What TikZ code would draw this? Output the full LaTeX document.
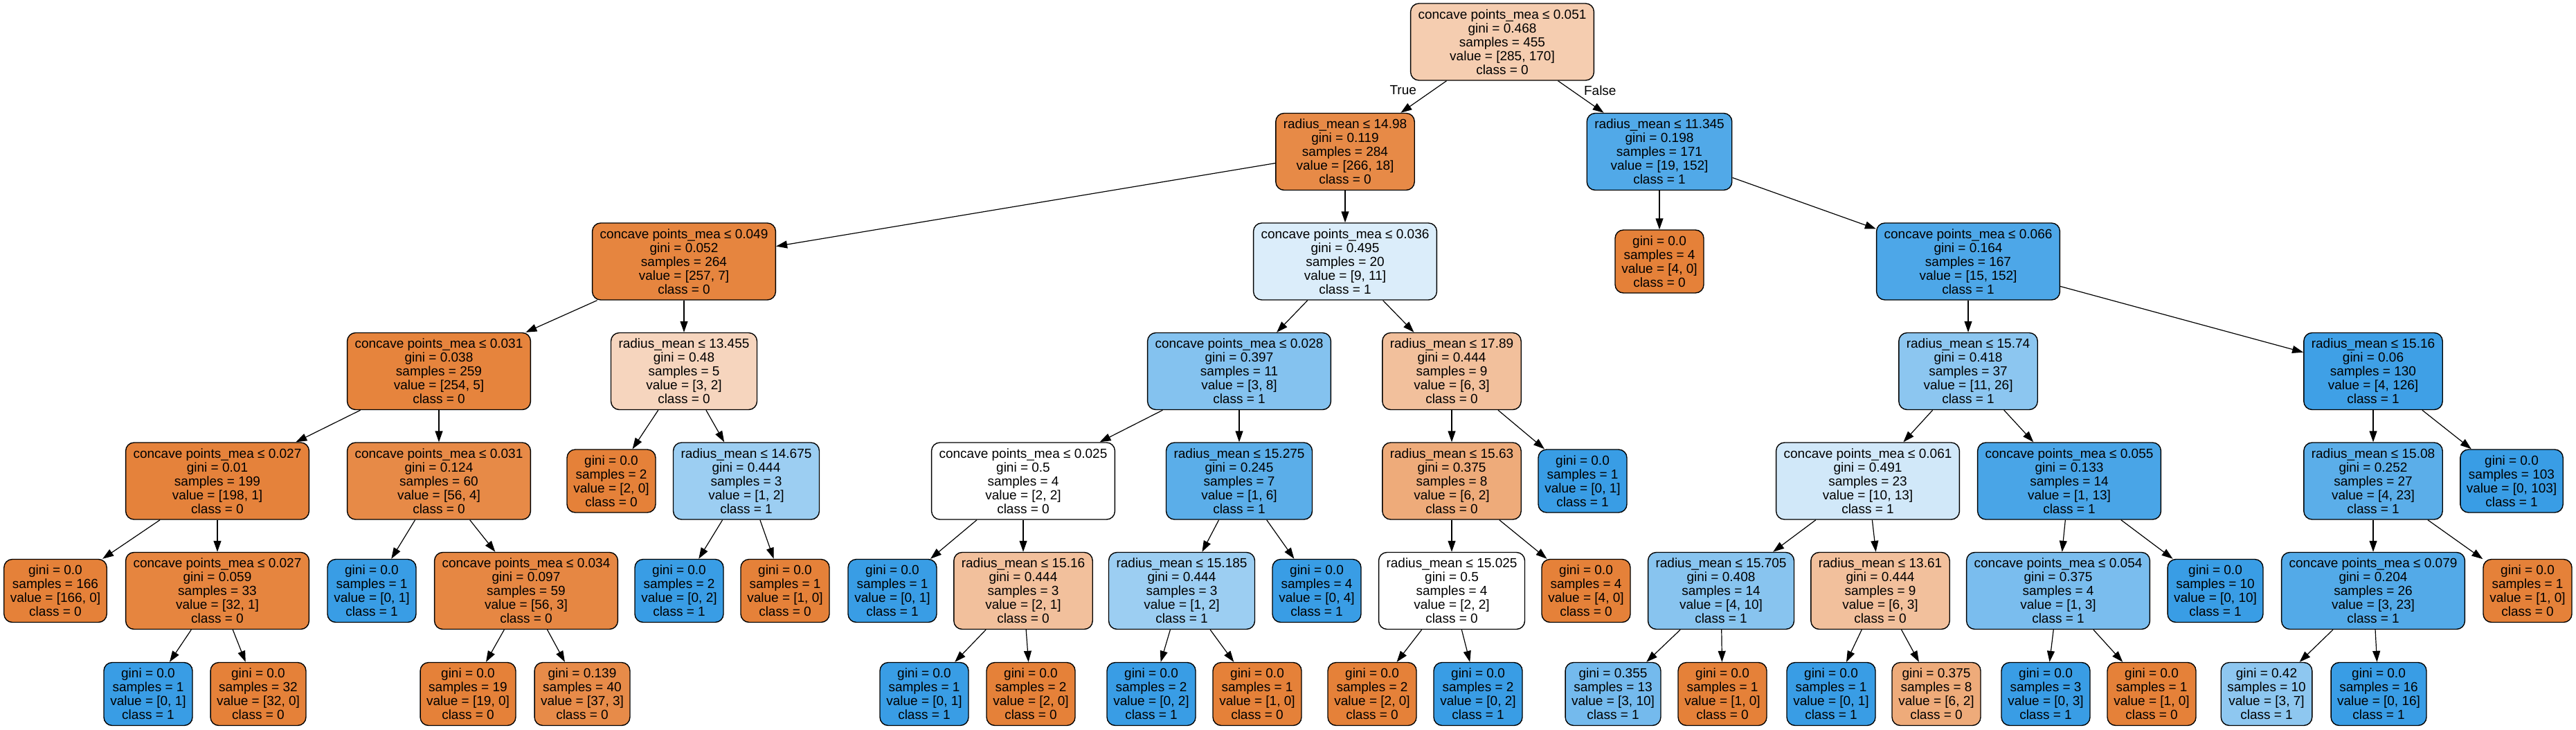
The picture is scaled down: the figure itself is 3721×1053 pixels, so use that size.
\documentclass[tikz,border=0pt]{standalone}
\usepackage{fontspec}
\setmainfont{Liberation Sans}
\usepackage{tikz}
\usetikzlibrary{arrows.meta}
\definecolor{cA}{HTML}{E58139}
\definecolor{cB}{HTML}{399DE5}
\tikzstyle{split} = [rectangle, rounded corners=12pt, draw=black, line width=1.4pt, align=center, inner xsep=11pt, inner ysep=2pt, minimum height=111pt, font=\fontsize{19pt}{20pt}\selectfont]
\tikzstyle{leaf} = [rectangle, rounded corners=12pt, draw=black, line width=1.4pt, align=center, inner xsep=9pt, inner ysep=2pt, minimum height=91pt, minimum width=128pt, font=\fontsize{19pt}{20pt}\selectfont]
\tikzstyle{lbl} = [font=\fontsize{19pt}{20pt}\selectfont]
\tikzstyle{arrow} = [line width=1.2pt,-{Triangle[length=16pt,width=11pt]}]

\begin{document}
\begin{tikzpicture}[node distance=158.5pt]
\useasboundingbox (0,0) rectangle (3721pt,-1053pt);

\node (root) [split, fill=cA!40] at (2170pt,-60.5pt) {concave points\_mea ≤ 0.051\\gini = 0.468\\samples = 455\\value = [285, 170]\\class = 0};

% level 1
\node (n1) [split, fill=cA!93, below of=root, xshift=-227pt] {radius\_mean ≤ 14.98\\gini = 0.119\\samples = 284\\value = [266, 18]\\class = 0};
\node (n2) [split, fill=cB!88, below of=root, xshift=227pt] {radius\_mean ≤ 11.345\\gini = 0.198\\samples = 171\\value = [19, 152]\\class = 1};

% level 2
\node (n3) [split, fill=cA!97, below of=n1, xshift=-955pt] {concave points\_mea ≤ 0.049\\gini = 0.052\\samples = 264\\value = [257, 7]\\class = 0};
\node (n4) [split, fill=cB!18, below of=n1] {concave points\_mea ≤ 0.036\\gini = 0.495\\samples = 20\\value = [9, 11]\\class = 1};
\node (n5) [leaf, fill=cA, below of=n2] {gini = 0.0\\samples = 4\\value = [4, 0]\\class = 0};
\node (n6) [split, fill=cB!90, below of=n2, xshift=446pt] {concave points\_mea ≤ 0.066\\gini = 0.164\\samples = 167\\value = [15, 152]\\class = 1};

% level 3
\node (n7) [split, fill=cA!98, below of=n3, xshift=-354pt] {concave points\_mea ≤ 0.031\\gini = 0.038\\samples = 259\\value = [254, 5]\\class = 0};
\node (n8) [split, fill=cA!33, below of=n3] {radius\_mean ≤ 13.455\\gini = 0.48\\samples = 5\\value = [3, 2]\\class = 0};
\node (n9) [split, fill=cB!62, below of=n4, xshift=-153pt] {concave points\_mea ≤ 0.028\\gini = 0.397\\samples = 11\\value = [3, 8]\\class = 1};
\node (n10) [split, fill=cA!50, below of=n4, xshift=154pt] {radius\_mean ≤ 17.89\\gini = 0.444\\samples = 9\\value = [6, 3]\\class = 0};
\node (n11) [split, fill=cB!58, below of=n6] {radius\_mean ≤ 15.74\\gini = 0.418\\samples = 37\\value = [11, 26]\\class = 1};
\node (n12) [split, fill=cB!97, below of=n6, xshift=585pt] {radius\_mean ≤ 15.16\\gini = 0.06\\samples = 130\\value = [4, 126]\\class = 1};

% level 4
\node (n13) [split, fill=cA!99, below of=n7, xshift=-320pt] {concave points\_mea ≤ 0.027\\gini = 0.01\\samples = 199\\value = [198, 1]\\class = 0};
\node (n14) [split, fill=cA!93, below of=n7] {concave points\_mea ≤ 0.031\\gini = 0.124\\samples = 60\\value = [56, 4]\\class = 0};
\node (n15) [leaf, fill=cA, below of=n8, xshift=-105pt] {gini = 0.0\\samples = 2\\value = [2, 0]\\class = 0};
\node (n16) [split, fill=cB!50, below of=n8, xshift=90pt] {radius\_mean ≤ 14.675\\gini = 0.444\\samples = 3\\value = [1, 2]\\class = 1};
\node (n17) [split, fill=white, below of=n9, xshift=-312pt] {concave points\_mea ≤ 0.025\\gini = 0.5\\samples = 4\\value = [2, 2]\\class = 0};
\node (n18) [split, fill=cB!83, below of=n9] {radius\_mean ≤ 15.275\\gini = 0.245\\samples = 7\\value = [1, 6]\\class = 1};
\node (n19) [split, fill=cA!67, below of=n10] {radius\_mean ≤ 15.63\\gini = 0.375\\samples = 8\\value = [6, 2]\\class = 0};
\node (n20) [leaf, fill=cB, below of=n10, xshift=189pt] {gini = 0.0\\samples = 1\\value = [0, 1]\\class = 1};
\node (n21) [split, fill=cB!23, below of=n11, xshift=-145pt] {concave points\_mea ≤ 0.061\\gini = 0.491\\samples = 23\\value = [10, 13]\\class = 1};
\node (n22) [split, fill=cB!92, below of=n11, xshift=146pt] {concave points\_mea ≤ 0.055\\gini = 0.133\\samples = 14\\value = [1, 13]\\class = 1};
\node (n23) [split, fill=cB!83, below of=n12] {radius\_mean ≤ 15.08\\gini = 0.252\\samples = 27\\value = [4, 23]\\class = 1};
\node (n24) [leaf, fill=cB, below of=n12, xshift=200pt] {gini = 0.0\\samples = 103\\value = [0, 103]\\class = 1};

% level 5
\node (n25) [leaf, fill=cA, below of=n13, xshift=-234pt] {gini = 0.0\\samples = 166\\value = [166, 0]\\class = 0};
\node (n26) [split, fill=cA!97, below of=n13] {concave points\_mea ≤ 0.027\\gini = 0.059\\samples = 33\\value = [32, 1]\\class = 0};
\node (n27) [leaf, fill=cB, below of=n14, xshift=-97pt] {gini = 0.0\\samples = 1\\value = [0, 1]\\class = 1};
\node (n28) [split, fill=cA!95, below of=n14, xshift=126pt] {concave points\_mea ≤ 0.034\\gini = 0.097\\samples = 59\\value = [56, 3]\\class = 0};
\node (n29) [leaf, fill=cB, below of=n16, xshift=-97pt] {gini = 0.0\\samples = 2\\value = [0, 2]\\class = 1};
\node (n30) [leaf, fill=cA, below of=n16, xshift=56pt] {gini = 0.0\\samples = 1\\value = [1, 0]\\class = 0};
\node (n31) [leaf, fill=cB, below of=n17, xshift=-189pt] {gini = 0.0\\samples = 1\\value = [0, 1]\\class = 1};
\node (n32) [split, fill=cA!50, below of=n17] {radius\_mean ≤ 15.16\\gini = 0.444\\samples = 3\\value = [2, 1]\\class = 0};
\node (n33) [split, fill=cB!50, below of=n18, xshift=-83pt] {radius\_mean ≤ 15.185\\gini = 0.444\\samples = 3\\value = [1, 2]\\class = 1};
\node (n34) [leaf, fill=cB, below of=n18, xshift=112pt] {gini = 0.0\\samples = 4\\value = [0, 4]\\class = 1};
\node (n35) [split, fill=white, below of=n19] {radius\_mean ≤ 15.025\\gini = 0.5\\samples = 4\\value = [2, 2]\\class = 0};
\node (n36) [leaf, fill=cA, below of=n19, xshift=194pt] {gini = 0.0\\samples = 4\\value = [4, 0]\\class = 0};
\node (n37) [split, fill=cB!60, below of=n21, xshift=-212pt] {radius\_mean ≤ 15.705\\gini = 0.408\\samples = 14\\value = [4, 10]\\class = 1};
\node (n38) [split, fill=cA!50, below of=n21, xshift=18pt] {radius\_mean ≤ 13.61\\gini = 0.444\\samples = 9\\value = [6, 3]\\class = 0};
\node (n39) [split, fill=cB!67, below of=n22, xshift=-16pt] {concave points\_mea ≤ 0.054\\gini = 0.375\\samples = 4\\value = [1, 3]\\class = 1};
\node (n40) [leaf, fill=cB, below of=n22, xshift=211pt] {gini = 0.0\\samples = 10\\value = [0, 10]\\class = 1};
\node (n41) [split, fill=cB!87, below of=n23] {concave points\_mea ≤ 0.079\\gini = 0.204\\samples = 26\\value = [3, 23]\\class = 1};
\node (n42) [leaf, fill=cA, below of=n23, xshift=223pt] {gini = 0.0\\samples = 1\\value = [1, 0]\\class = 0};

% level 6
\node (n43) [leaf, fill=cB, below of=n26, xshift=-100pt, yshift=9.5pt] {gini = 0.0\\samples = 1\\value = [0, 1]\\class = 1};
\node (n44) [leaf, fill=cA, below of=n26, xshift=59pt, yshift=9.5pt] {gini = 0.0\\samples = 32\\value = [32, 0]\\class = 0};
\node (n45) [leaf, fill=cA, below of=n28, xshift=-84pt, yshift=9.5pt] {gini = 0.0\\samples = 19\\value = [19, 0]\\class = 0};
\node (n46) [leaf, fill=cA!92, below of=n28, xshift=81pt, yshift=9.5pt] {gini = 0.139\\samples = 40\\value = [37, 3]\\class = 0};
\node (n47) [leaf, fill=cB, below of=n32, xshift=-143pt, yshift=9.5pt] {gini = 0.0\\samples = 1\\value = [0, 1]\\class = 1};
\node (n48) [leaf, fill=cA, below of=n32, xshift=11pt, yshift=9.5pt] {gini = 0.0\\samples = 2\\value = [2, 0]\\class = 0};
\node (n49) [leaf, fill=cB, below of=n33, xshift=-44pt, yshift=9.5pt] {gini = 0.0\\samples = 2\\value = [0, 2]\\class = 1};
\node (n50) [leaf, fill=cA, below of=n33, xshift=109pt, yshift=9.5pt] {gini = 0.0\\samples = 1\\value = [1, 0]\\class = 0};
\node (n51) [leaf, fill=cA, below of=n35, xshift=-115pt, yshift=9.5pt] {gini = 0.0\\samples = 2\\value = [2, 0]\\class = 0};
\node (n52) [leaf, fill=cB, below of=n35, xshift=38pt, yshift=9.5pt] {gini = 0.0\\samples = 2\\value = [0, 2]\\class = 1};
\node (n53) [leaf, fill=cB!70, below of=n37, xshift=-156pt, yshift=9.5pt] {gini = 0.355\\samples = 13\\value = [3, 10]\\class = 1};
\node (n54) [leaf, fill=cA, below of=n37, xshift=2pt, yshift=9.5pt] {gini = 0.0\\samples = 1\\value = [1, 0]\\class = 0};
\node (n55) [leaf, fill=cB, below of=n38, xshift=-71pt, yshift=9.5pt] {gini = 0.0\\samples = 1\\value = [0, 1]\\class = 1};
\node (n56) [leaf, fill=cA!67, below of=n38, xshift=81pt, yshift=9.5pt] {gini = 0.375\\samples = 8\\value = [6, 2]\\class = 0};
\node (n57) [leaf, fill=cB, below of=n39, xshift=-18pt, yshift=9.5pt] {gini = 0.0\\samples = 3\\value = [0, 3]\\class = 1};
\node (n58) [leaf, fill=cA, below of=n39, xshift=135pt, yshift=9.5pt] {gini = 0.0\\samples = 1\\value = [1, 0]\\class = 0};
\node (n59) [leaf, fill=cB!57, below of=n41, xshift=-154pt, yshift=9.5pt] {gini = 0.42\\samples = 10\\value = [3, 7]\\class = 1};
\node (n60) [leaf, fill=cB, below of=n41, xshift=8pt, yshift=9.5pt] {gini = 0.0\\samples = 16\\value = [0, 16]\\class = 1};

\draw [arrow] (root) -- node (truelbl) [lbl, pos=0.3, xshift=-43pt] {True} (n1);
\draw [arrow] (root) -- node (falselbl) [lbl, pos=0.3, xshift=41pt] {False} (n2);
\draw [arrow] (n1) -- (n3);
\draw [arrow] (n1) -- (n4);
\draw [arrow] (n2) -- (n5);
\draw [arrow] (n2) -- (n6);
\draw [arrow] (n3) -- (n7);
\draw [arrow] (n3) -- (n8);
\draw [arrow] (n4) -- (n9);
\draw [arrow] (n4) -- (n10);
\draw [arrow] (n6) -- (n11);
\draw [arrow] (n6) -- (n12);
\draw [arrow] (n7) -- (n13);
\draw [arrow] (n7) -- (n14);
\draw [arrow] (n8) -- (n15);
\draw [arrow] (n8) -- (n16);
\draw [arrow] (n9) -- (n17);
\draw [arrow] (n9) -- (n18);
\draw [arrow] (n10) -- (n19);
\draw [arrow] (n10) -- (n20);
\draw [arrow] (n11) -- (n21);
\draw [arrow] (n11) -- (n22);
\draw [arrow] (n12) -- (n23);
\draw [arrow] (n12) -- (n24);
\draw [arrow] (n13) -- (n25);
\draw [arrow] (n13) -- (n26);
\draw [arrow] (n14) -- (n27);
\draw [arrow] (n14) -- (n28);
\draw [arrow] (n16) -- (n29);
\draw [arrow] (n16) -- (n30);
\draw [arrow] (n17) -- (n31);
\draw [arrow] (n17) -- (n32);
\draw [arrow] (n18) -- (n33);
\draw [arrow] (n18) -- (n34);
\draw [arrow] (n19) -- (n35);
\draw [arrow] (n19) -- (n36);
\draw [arrow] (n21) -- (n37);
\draw [arrow] (n21) -- (n38);
\draw [arrow] (n22) -- (n39);
\draw [arrow] (n22) -- (n40);
\draw [arrow] (n23) -- (n41);
\draw [arrow] (n23) -- (n42);
\draw [arrow] (n26) -- (n43);
\draw [arrow] (n26) -- (n44);
\draw [arrow] (n28) -- (n45);
\draw [arrow] (n28) -- (n46);
\draw [arrow] (n32) -- (n47);
\draw [arrow] (n32) -- (n48);
\draw [arrow] (n33) -- (n49);
\draw [arrow] (n33) -- (n50);
\draw [arrow] (n35) -- (n51);
\draw [arrow] (n35) -- (n52);
\draw [arrow] (n37) -- (n53);
\draw [arrow] (n37) -- (n54);
\draw [arrow] (n38) -- (n55);
\draw [arrow] (n38) -- (n56);
\draw [arrow] (n39) -- (n57);
\draw [arrow] (n39) -- (n58);
\draw [arrow] (n41) -- (n59);
\draw [arrow] (n41) -- (n60);

\end{tikzpicture}
\end{document}
